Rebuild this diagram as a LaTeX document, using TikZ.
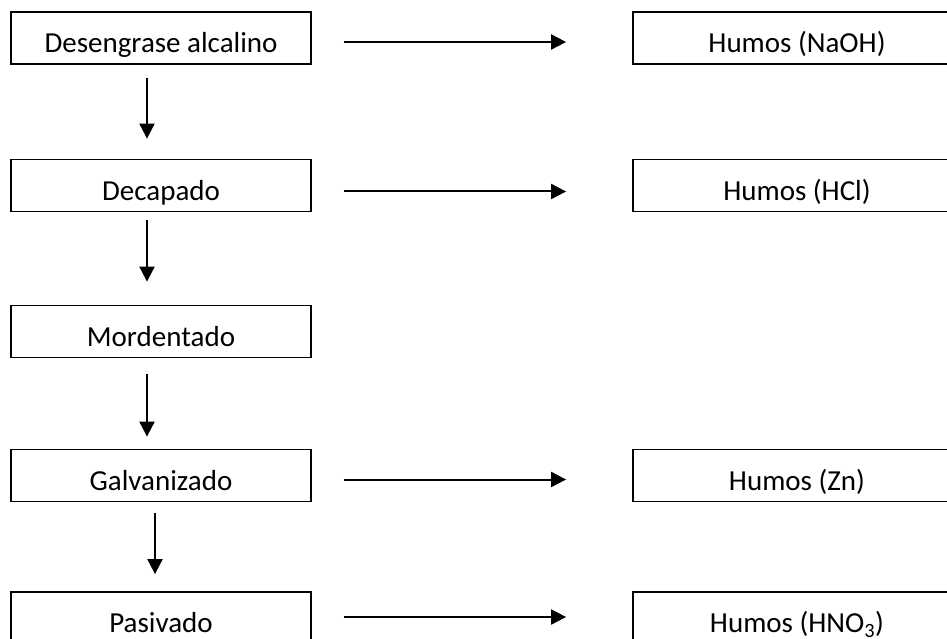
\documentclass[tikz,border=0pt]{standalone}
\usepackage{fontspec}
\setmainfont{Carlito}
\usetikzlibrary{arrows.meta,calc}

\tikzset{
  stagebox/.style={draw=black, line width=1.8pt, minimum width=300pt,
    minimum height=52pt, inner sep=0pt},
  fumebox/.style={stagebox, minimum width=328pt},
  boxtext/.style={anchor=base, inner sep=0pt,
    font=\fontsize{29}{34}\selectfont},
  flow/.style={line width=2pt, -{Triangle[length=15pt,width=15pt]}}
}

% Label sitting low in its box; the box edge trims the descenders.
\newcommand\boxlabel[3]{%
  \begin{scope}
    \clip ($(#2.south west)+(0,-5)$) rectangle (#2.north east);
    \node[boxtext] (#1) at ($(#2.south)+(0,-12)$) {#3};
  \end{scope}}

\begin{document}
\begin{tikzpicture}[x=1pt, y=-1pt]
  \useasboundingbox (0,0) rectangle (947,639);
  \clip (0,0) rectangle (947,639);
  \fill[white] (0,0) rectangle (947,639);

  % process stages
  \node[stagebox] (desengrase)  at (161,38)    {};
  \node[stagebox] (decapado)    at (161,185.5) {};
  \node[stagebox] (mordentado)  at (161,331.5) {};
  \node[stagebox] (galvanizado) at (161,475.5) {};
  \node[stagebox] (pasivado)    at (161,618)   {};

  % emissions
  \node[fumebox] (naoh) at (797,38)    {};
  \node[fumebox] (hcl)  at (797,185.5) {};
  \node[fumebox] (zn)   at (797,475.5) {};
  \node[fumebox] (hno)  at (797,618)   {};

  \boxlabel{desengrase-t}{desengrase}{Desengrase alcalino}
  \boxlabel{decapado-t}{decapado}{Decapado}
  \boxlabel{mordentado-t}{mordentado}{Mordentado}
  \boxlabel{galvanizado-t}{galvanizado}{Galvanizado}
  \boxlabel{pasivado-t}{pasivado}{Pasivado}
  \boxlabel{naoh-t}{naoh}{Humos (NaOH)}
  \boxlabel{hcl-t}{hcl}{Humos (HCl)}
  \boxlabel{zn-t}{zn}{Humos (Zn)}
  \boxlabel{hno-t}{hno}{Humos (HNO\textsubscript{3})}

  % flow between stages
  \draw[flow] ($(desengrase.south)+(-14,13)$)  -- ($(decapado.north)+(-14,-20)$);
  \draw[flow] ($(decapado.south)+(-14,8)$)     -- ($(mordentado.north)+(-14,-23)$);
  \draw[flow] ($(mordentado.south)+(-14,16)$)  -- ($(galvanizado.north)+(-14,-12)$);
  \draw[flow] ($(galvanizado.south)+(-6,11)$)  -- ($(pasivado.north)+(-6,-17)$);

  % fumes released
  \draw[flow] ($(desengrase.east)+(32,4)$)  -- ($(naoh.west)+(-66,4)$);
  \draw[flow] ($(decapado.east)+(32,6)$)    -- ($(hcl.west)+(-66,6)$);
  \draw[flow] ($(galvanizado.east)+(32,4)$) -- ($(zn.west)+(-66,4)$);
  \draw[flow] ($(pasivado.east)+(32,-1)$)   -- ($(hno.west)+(-66,-1)$);
\end{tikzpicture}
\end{document}
